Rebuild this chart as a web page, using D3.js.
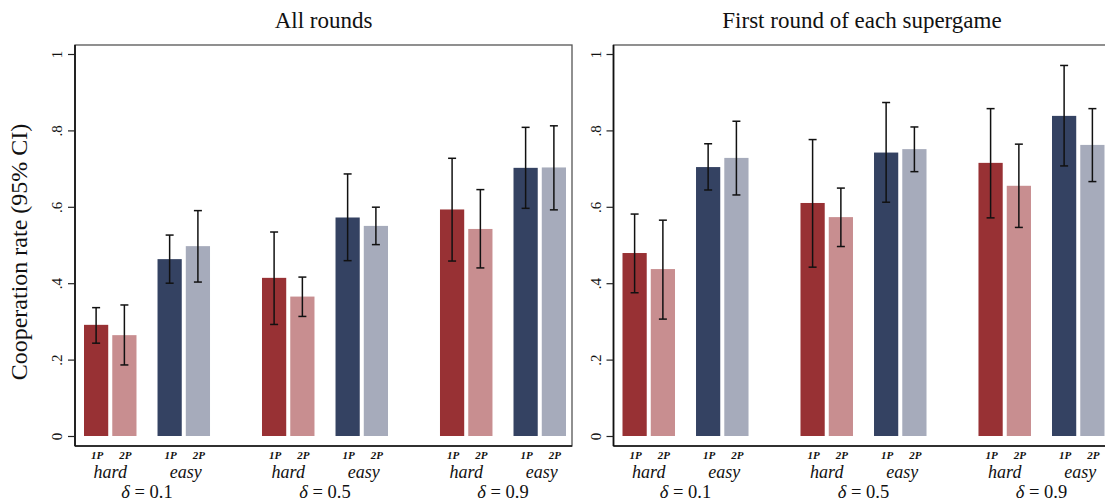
<!DOCTYPE html>
<html>
<head>
<meta charset="utf-8">
<script src="https://cdn.jsdelivr.net/npm/d3@7"></script>
<style>
body{margin:0;background:#fff;}
svg text{font-family:"Liberation Serif","Times New Roman",serif;fill:#111;}
</style>
</head>
<body>
<div id="chart"></div>
<script>
// categories
var deltas = ["0.1","0.5","0.9"];
var levels = ["hard","easy"];
var players = ["1P","2P"];
var yTicks = [0,.2,.4,.6,.8,1];
var tickLabels = ["0",".2",".4",".6",".8","1"];
var titles = ["All rounds","First round of each supergame"];

// order: delta -> hard/easy -> 1P/2P
var allMean = [.291,.264, .463,.497, .414,.365, .572,.550, .593,.542, .702,.703];
var allLo   = [.243,.186, .400,.403, .292,.313, .459,.501, .458,.440, .596,.592];
var allHi   = [.336,.343, .526,.590, .534,.416, .686,.599, .727,.645, .808,.812];

var firstMean = [.479,.437, .704,.728, .610,.573, .742,.751, .715,.655, .838,.762];
var firstLo   = [.375,.306, .644,.631, .442,.496, .612,.692, .571,.546, .707,.666];
var firstHi   = [.581,.565, .765,.824, .776,.649, .873,.809, .857,.764, .970,.857];

var colors = {hard:["#983134","#c88e90"], easy:["#344262","#a6abbb"]};

function rows(m,lo,hi){
  var out = [], k = 0;
  deltas.forEach(function(d){
    levels.forEach(function(l){
      players.forEach(function(p,pi){
        out.push({delta:d, level:l, player:p, pi:pi, v:m[k], lo:lo[k], hi:hi[k]});
        k++;
      });
    });
  });
  return out;
}
var panels = [
  {x0:75, data:rows(allMean,allLo,allHi)},
  {x0:613.5, data:rows(firstMean,firstLo,firstHi)}
];

var W = 1105, H = 503;
var yTop = 45, yBot = 446, fw = 497;
var svg = d3.select("#chart").append("svg").attr("width",W).attr("height",H);

var y = d3.scaleLinear().domain([0,1]).range([436,54]);

svg.append("text")
  .attr("transform","translate(27,252) rotate(-90)")
  .attr("text-anchor","middle")
  .style("font-size","24px")
  .text("Cooperation rate (95% CI)");

panels.forEach(function(p,i){
  var g = svg.append("g");
  var x0 = p.x0;

  var xd = d3.scaleBand().domain(deltas).range([x0+9, x0+491]).paddingInner(0.292).paddingOuter(0);
  var xl = d3.scaleBand().domain(levels).range([0, xd.bandwidth()]).paddingInner(0.286).paddingOuter(0);
  var xp = d3.scaleBand().domain(players).range([0, xl.bandwidth()]).paddingInner(0.143).paddingOuter(0);
  var bx = function(d){ return xd(d.delta)+xl(d.level)+xp(d.player); };

  // title
  g.append("text").attr("x",x0+fw/2).attr("y",28).attr("text-anchor","middle")
    .style("font-size","23px").text(titles[i]);

  // frame
  g.append("rect").attr("x",x0).attr("y",yTop).attr("width",fw).attr("height",yBot-yTop)
    .attr("fill","none").attr("stroke","#555").attr("stroke-width",1.3);

  // y axis
  var ax = d3.axisLeft(y).tickValues(yTicks).tickFormat(function(d,j){return tickLabels[j];}).tickSize(7).tickPadding(6);
  var ag = g.append("g").attr("transform","translate("+x0+",0)").call(ax);
  ag.select(".domain").attr("d","M0,"+yTop+"V"+yBot).attr("stroke","#111").attr("stroke-width",1.7);
  ag.selectAll(".tick line").attr("stroke","#222").attr("stroke-width",1.2);
  ag.selectAll(".tick text")
    .attr("x",null).attr("dy",null)
    .attr("text-anchor","middle")
    .attr("transform","translate(-13,0) rotate(-90)")
    .style("font-size","15px").style("font-family","'Liberation Serif',serif").attr("fill","#111");
  g.append("line").attr("x1",x0).attr("x2",x0+fw).attr("y1",yBot).attr("y2",yBot)
    .attr("stroke","#111").attr("stroke-width",1.7);

  // bars
  g.selectAll("rect.bar").data(p.data).enter().append("rect")
    .attr("class","bar")
    .attr("x",bx).attr("width",xp.bandwidth())
    .attr("y",function(d){return y(d.v);})
    .attr("height",function(d){return y(0)-y(d.v);})
    .attr("fill",function(d){return colors[d.level][d.pi];});

  // error bars
  var cx = function(d){ return bx(d)+xp.bandwidth()/2; };
  var eb = g.selectAll("g.err").data(p.data).enter().append("g").attr("class","err")
    .attr("stroke","#111").attr("stroke-width",1.5);
  eb.append("line").attr("x1",cx).attr("x2",cx).attr("y1",function(d){return y(d.lo);}).attr("y2",function(d){return y(d.hi);});
  eb.append("line").attr("x1",function(d){return cx(d)-4;}).attr("x2",function(d){return cx(d)+4;})
    .attr("y1",function(d){return y(d.lo);}).attr("y2",function(d){return y(d.lo);});
  eb.append("line").attr("x1",function(d){return cx(d)-4;}).attr("x2",function(d){return cx(d)+4;})
    .attr("y1",function(d){return y(d.hi);}).attr("y2",function(d){return y(d.hi);});

  // x labels
  g.selectAll("text.pl").data(p.data).enter().append("text")
    .attr("x",function(d){return cx(d)+1;}).attr("y",459).attr("text-anchor","middle")
    .style("font-size","11px").style("font-style","italic").style("font-weight","bold")
    .text(function(d){return d.player;});
  var lv = [];
  deltas.forEach(function(d){ levels.forEach(function(l){ lv.push({delta:d, level:l}); }); });
  g.selectAll("text.lv").data(lv).enter().append("text")
    .attr("x",function(d){return xd(d.delta)+xl(d.level)+xl.bandwidth()/2+(d.level=="easy"?2:0);})
    .attr("y",477.5).attr("text-anchor","middle")
    .style("font-size","18px").style("font-style","italic")
    .text(function(d){return d.level;});
  var dl = g.selectAll("text.dl").data(deltas).enter().append("text")
    .attr("x",function(d){return xd(d)+xd.bandwidth()/2;})
    .attr("y",498).attr("text-anchor","middle").style("font-size","18.5px");
  dl.append("tspan").style("font-style","italic").text("δ");
  dl.append("tspan").text(function(d){return " = "+d;});
});
</script>
</body>
</html>
